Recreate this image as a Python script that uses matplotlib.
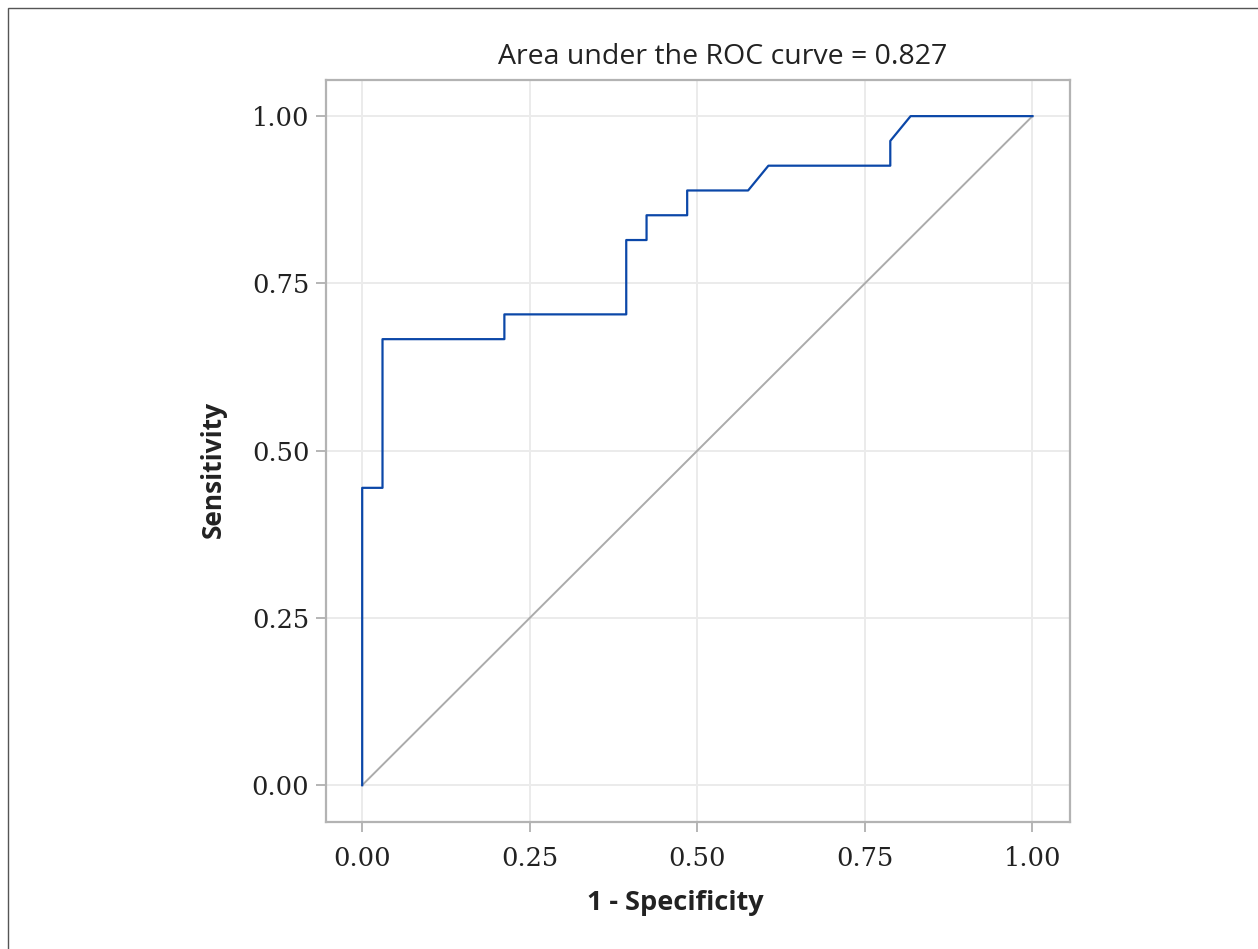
import matplotlib
matplotlib.use("Agg")
import matplotlib.pyplot as plt
from matplotlib.patches import Rectangle

# ROC step points, read as counts (33 negatives, 27 positives)
n_neg = 33
n_pos = 27
fp_counts = [0, 0, 1, 1, 7, 7, 13, 13, 14, 14, 16, 16, 19, 20, 26, 26, 27, 33]
tp_counts = [0, 12, 12, 18, 18, 19, 19, 22, 22, 23, 23, 24, 24, 25, 25, 26, 27, 27]
fpr = [c / n_neg for c in fp_counts]
tpr = [c / n_pos for c in tp_counts]

ticks = [0.0, 0.25, 0.5, 0.75, 1.0]
tick_labels = ["0.00", "0.25", "0.50", "0.75", "1.00"]
title = "Area under the ROC curve = 0.827"

W, H = 1258, 949
fig = plt.figure(figsize=(W / 100, H / 100), dpi=100)

# outer frame (only left/top edges visible in original)
fig.patches.append(Rectangle((8 / W, -0.1), 1.2, 1 - 8 / H + 0.1, transform=fig.transFigure,
                             fill=False, edgecolor="#555555", linewidth=1.0))

ax = fig.add_axes([326 / W, 1 - 822 / H, 744 / W, 742 / H])
ax.plot([0, 1], [0, 1], color="#ababab", linewidth=1.4, zorder=2)
ax.plot(fpr, tpr, color="#0b47a8", linewidth=1.6, zorder=3)

ax.set_xlim(-0.054, 1.056)
ax.set_ylim(-0.055, 1.054)
ax.set_xticks(ticks)
ax.set_yticks(ticks)
ax.set_xticklabels(tick_labels, family="DejaVu Serif", fontsize=18.5, color="#222222")
ax.set_yticklabels(tick_labels, family="DejaVu Serif", fontsize=18.5, color="#222222")
ax.tick_params(length=7, width=1.3, color="#b0b0b0", pad=5)
ax.tick_params(axis="x", pad=10)
ax.grid(True, color="#ebebeb", linewidth=1.4)
ax.set_axisbelow(True)
for s in ax.spines.values():
    s.set_color("#b3b3b3")
    s.set_linewidth(1.6)

fig.text(723 / W, 1 - 57 / H, title, ha="center", va="center", family="Open Sans", fontsize=20.5, color="#222222")
fig.text(675 / W, 1 - 903 / H, "1 - Specificity", ha="center", va="center", family="Open Sans",
         fontweight="bold", fontsize=19.5, color="#222222")
fig.text(213 / W, 1 - 469 / H, "Sensitivity", ha="center", va="center", rotation=90, family="Open Sans",
         fontweight="bold", fontsize=19, color="#222222")

fig.savefig("out.png", dpi=100)
